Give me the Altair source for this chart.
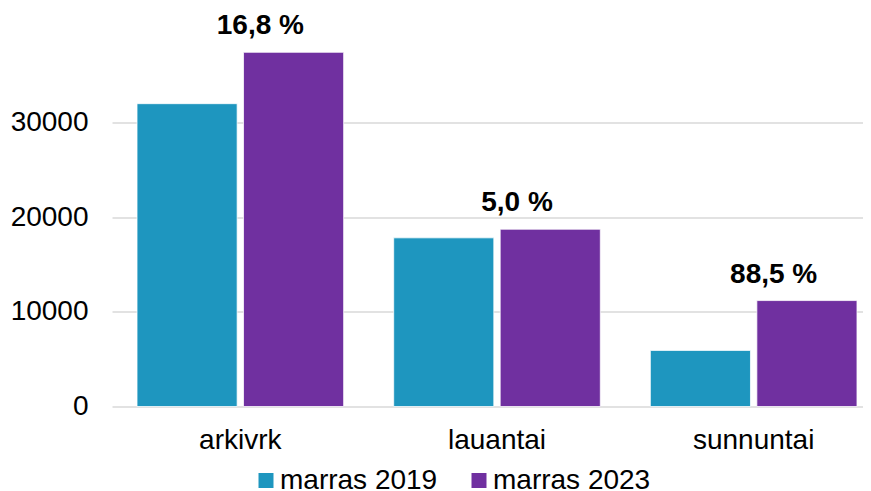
import altair as alt
import pandas as pd

categories = ["arkivrk", "lauantai", "sunnuntai"]
series = ["marras 2019", "marras 2023"]
v2019 = [31960, 17800, 5920]
v2023 = [37380, 18710, 11180]
pct_labels = ["16,8 %", "5,0 %", "88,5 %"]
colors = ["#1E96BF", "#7030A0"]

rows = []
for i, c in enumerate(categories):
    rows.append({"day": c, "series": series[0], "value": v2019[i], "label": ""})
    rows.append({"day": c, "series": series[1], "value": v2023[i], "label": pct_labels[i]})
df = pd.DataFrame(rows)

FONT = "Liberation Sans"

xscale = alt.Scale(range=[0, 770], paddingInner=0.195, paddingOuter=0.0975)
x = alt.X("day:N", sort=categories, scale=xscale,
          axis=alt.Axis(title=None, labelFontSize=28, labelColor="#000000", labelFont=FONT,
                        labelBaseline="alphabetic", labelPadding=42, ticks=False, tickSize=0,
                        domain=False, grid=False, labelAngle=0))
y = alt.Y("value:Q", scale=alt.Scale(domain=[0, 40000], nice=False),
          axis=alt.Axis(title=None, values=[0, 10000, 20000, 30000], format="d",
                        labelFontSize=28, labelColor="#000000", labelFont=FONT,
                        labelPadding=24, ticks=False, tickSize=0, domain=False,
                        grid=True, gridColor="#D9D9D9", gridWidth=1.5))

bars = alt.Chart(df).mark_bar(stroke="white", strokeWidth=0.75).encode(
    x=x,
    y=y,
    xOffset=alt.XOffset("series:N", sort=series, scale=alt.Scale(paddingInner=0.06, paddingOuter=0)),
    color=alt.Color("series:N", sort=series,
                    scale=alt.Scale(domain=series, range=colors),
                    legend=alt.Legend(title=None, orient="none", legendX=140, legendY=439,
                                      direction="horizontal", symbolType="square",
                                      symbolSize=225, symbolStrokeWidth=0, symbolOpacity=1,
                                      labelFontSize=28, labelFont=FONT, labelColor="#000000",
                                      labelOffset=0, columnPadding=27, padding=0,
                                      labelLimit=400)),
)

texts = alt.Chart(df).transform_filter(alt.datum.label != "").mark_text(
    font=FONT, fontSize=28, fontWeight="bold", color="#000000",
    baseline="alphabetic", align="center", dx=20, dy=-18,
).encode(
    x=alt.X("day:N", sort=categories, scale=xscale),
    y=alt.Y("value:Q"),
    text="label:N",
)

chart = alt.layer(bars, texts).properties(
    width=751, height=379,
    autosize=alt.AutoSizeParams(type="none"),
    padding={"left": 104, "top": 19.5, "right": 0, "bottom": 85},
).configure(font=FONT).configure_view(stroke=None)

chart.save("out.html", embed_options={"renderer": "svg", "actions": False})
